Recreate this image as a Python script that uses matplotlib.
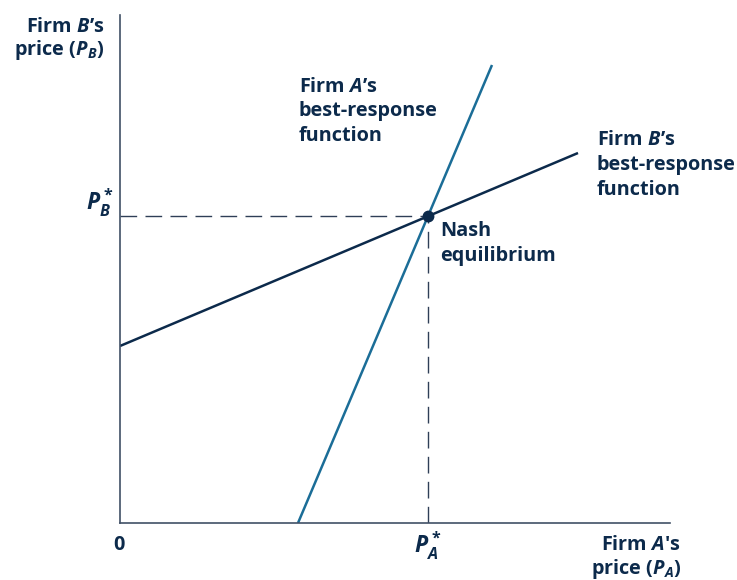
import matplotlib.pyplot as plt

# best-response lines (endpoints in price units), equilibrium point
firm_a_pa = [178, 372]
firm_a_pb = [0, 458]
firm_b_pa = [0, 458]
firm_b_pb = [177, 370]
nash_pa = 308
nash_pb = 307
x_max = 550
y_max = 508

NAVY = "#0c2a4b"
TEAL = "#1b6d97"
AXIS = "#415066"

plt.rcParams["font.family"] = ["Open Sans", "DejaVu Sans"]
plt.rcParams["font.weight"] = "bold"
plt.rcParams["mathtext.fontset"] = "custom"
plt.rcParams["mathtext.it"] = "Open Sans:italic:bold"
plt.rcParams["mathtext.rm"] = "Open Sans:bold"
plt.rcParams["mathtext.bf"] = "Open Sans:bold"

fig = plt.figure(figsize=(7.37, 5.80), dpi=100)
W, H = 737, 580
ax = fig.add_axes([120 / W, (H - 523) / H, 550 / W, 508 / H])
ax.set_xlim(0, x_max)
ax.set_ylim(0, y_max)
for side in ("top", "right"):
    ax.spines[side].set_visible(False)
for side in ("left", "bottom"):
    ax.spines[side].set_color(AXIS)
    ax.spines[side].set_linewidth(1.2)
ax.set_xticks([])
ax.set_yticks([])

ax.plot(firm_a_pa, firm_a_pb, color=TEAL, lw=1.8, solid_capstyle="butt")
ax.plot(firm_b_pa, firm_b_pb, color=NAVY, lw=1.8, solid_capstyle="butt")
ax.plot([0, nash_pa], [nash_pb, nash_pb], color="#2f3f57", lw=1.0, dashes=(12, 6))
ax.plot([nash_pa, nash_pa], [0, nash_pb], color="#2f3f57", lw=1.0, dashes=(12, 6))
ax.plot([nash_pa], [nash_pb], "o", color=NAVY, ms=7.5, zorder=5)

fs = 14.3


def label(x, y, s, ha="left", size=fs):
    # x, y in pixel coords from top-left of the figure
    fig.text(x / W, 1 - y / H, s, ha=ha, va="center", color=NAVY,
             fontsize=size, fontweight="bold")


label(104, 27, "Firm $B$’s", ha="right")
label(104, 50, "price ($P_B$)", ha="right")
label(114, 203, r"$P_B^*$", ha="right", size=16.5)
label(119, 545, "0", ha="center")
label(428, 546, r"$P_A^*$", ha="center", size=16.5)
label(681, 545, "Firm $A$'s", ha="right")
label(681, 569, "price ($P_A$)", ha="right")

label(299, 87, "Firm $A$’s")
label(299, 111, "best-response")
label(299, 136, "function")

label(597, 140, "Firm $B$’s")
label(597, 165, "best-response")
label(597, 190, "function")

label(440, 231, "Nash")
label(440, 256, "equilibrium")

fig.savefig("out.png", dpi=100)
